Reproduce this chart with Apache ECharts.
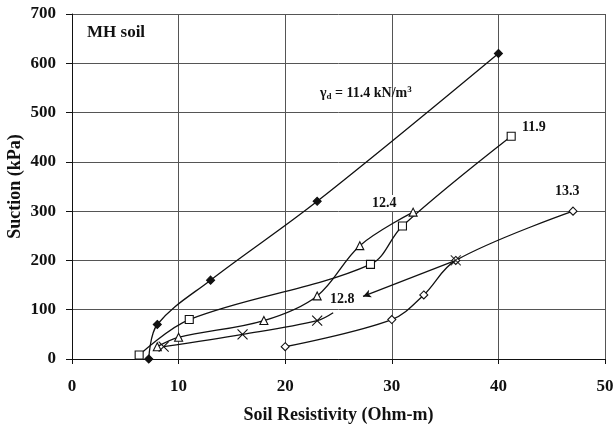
<!DOCTYPE html>
<html>
<head>
<meta charset="utf-8">
<script src="https://cdn.jsdelivr.net/npm/echarts@6/dist/echarts.min.js"></script>
<style>
  html, body { margin: 0; padding: 0; background: #fff; }
  #chart { width: 615px; height: 432px; }
</style>
</head>
<body>
<div id="chart"></div>
<script>
// Soil resistivity (Ohm-m) vs. suction (kPa) for MH soil at several dry unit weights
const xTicks = [0, 10, 20, 30, 40, 50];
const yTicks = [0, 100, 200, 300, 400, 500, 600, 700];

const gamma114 = [[7.2, 0], [8, 70], [13, 160], [23, 320], [40, 620]];
const gamma119 = [[6.3, 8], [11, 80], [28, 192], [31, 270], [41.2, 452]];
const gamma124 = [[8, 25], [10, 44], [18, 78], [23, 128], [27, 230], [32, 298]];
const gamma128 = [[8.6, 25], [16, 50], [23, 78]];
const gamma128Tail = [24.5, 94];
const gamma128Pointer = [[36, 200], [27.3, 127]];
const gamma133 = [[20, 25], [30, 80], [33, 130], [36, 200], [47, 300]];

const serif = '"Liberation Serif", "Times New Roman", serif';
const ink = '#111';

const crossPath = 'path://M0,0L10,10M10,0L0,10';

function lineSeries(name, data, symbol, size, filled) {
  return {
    name: name,
    type: 'line',
    data: data,
    smooth: 0.35,
    symbol: symbol,
    symbolSize: size,
    showAllSymbol: true,
    lineStyle: { color: ink, width: 1.3 },
    itemStyle: { color: filled ? ink : '#fff', borderColor: ink, borderWidth: 1.1 },
    z: 3
  };
}

const chart = echarts.init(document.getElementById('chart'), null, { renderer: 'canvas' });

const s128 = lineSeries('12.8', gamma128.concat([{ value: gamma128Tail, symbol: 'none' }]), crossPath, 10, false);
s128.markLine = {
  silent: true,
  symbol: ['none', 'arrow'],
  symbolSize: [6, 8],
  label: { show: false },
  lineStyle: { color: ink, width: 1.2, type: 'solid' },
  data: [[{ coord: gamma128Pointer[0] }, { coord: gamma128Pointer[1] }]]
};

chart.setOption({
  animation: false,
  backgroundColor: '#fff',
  grid: { left: 72, right: 10, top: 14, bottom: 73, containLabel: false, outerBoundsMode: 'none' },
  xAxis: {
    type: 'value',
    min: xTicks[0],
    max: xTicks[xTicks.length - 1],
    interval: 10,
    name: 'Soil Resistivity (Ohm-m)',
    nameLocation: 'middle',
    nameGap: 47,
    nameMoveOverlap: false,
    nameTextStyle: { fontFamily: serif, fontWeight: 'bold', fontSize: 18, color: ink },
    axisLine: { show: true, onZero: false, lineStyle: { color: ink, width: 1 } },
    axisTick: { show: true, inside: false, length: 5, lineStyle: { color: ink } },
    axisLabel: { fontFamily: serif, fontWeight: 'bold', fontSize: 17, color: ink, margin: 19 },
    splitLine: { show: true, lineStyle: { color: '#555', width: 1 } }
  },
  yAxis: {
    type: 'value',
    min: yTicks[0],
    max: yTicks[yTicks.length - 1],
    interval: 100,
    name: 'Suction (kPa)',
    nameLocation: 'middle',
    nameGap: 48,
    nameMoveOverlap: false,
    nameRotate: 90,
    nameTextStyle: { fontFamily: serif, fontWeight: 'bold', fontSize: 18, color: ink },
    axisLine: { show: true, lineStyle: { color: ink, width: 1 } },
    axisTick: { show: true, inside: false, length: 6, lineStyle: { color: ink } },
    axisLabel: { fontFamily: serif, fontWeight: 'bold', fontSize: 17, color: ink, margin: 16 },
    splitLine: { show: true, lineStyle: { color: '#555', width: 1 } }
  },
  series: [
    lineSeries('11.4', gamma114, 'diamond', 8, true),
    lineSeries('11.9', gamma119, 'rect', 8, false),
    lineSeries('12.4', gamma124, 'triangle', 8, false),
    s128,
    {
      name: '12.8 pointer',
      type: 'scatter',
      data: [gamma128Pointer[0]],
      symbol: crossPath,
      symbolSize: 10,
      itemStyle: { color: '#fff', borderColor: ink, borderWidth: 1.2 },
      z: 4
    },
    lineSeries('13.3', gamma133, 'diamond', 8, false)
  ],
  graphic: [
    {
      type: 'text', left: 87, top: 24, z: 10,
      style: { text: 'MH soil', font: 'bold 17px ' + serif, fill: ink }
    },
    {
      type: 'text', left: 320, top: 85, z: 10,
      style: {
        text: '{g|γ}{s|d}{g| = 11.4 kN/m}{p|3}',
        rich: {
          g: { font: 'bold 14px ' + serif, fill: ink, verticalAlign: 'middle' },
          s: { font: 'bold 9px ' + serif, fill: ink, padding: [6, 0, 0, 0] },
          p: { font: 'bold 9px ' + serif, fill: ink, padding: [0, 0, 8, 0] }
        }
      }
    },
    {
      type: 'text', left: 522, top: 120, z: 10,
      style: { text: '11.9', font: 'bold 14px ' + serif, fill: ink }
    },
    {
      type: 'text', left: 555, top: 184, z: 10,
      style: { text: '13.3', font: 'bold 14px ' + serif, fill: ink }
    },
    {
      type: 'text', left: 367, top: 195, z: 10,
      style: { text: '12.4', font: 'bold 14px ' + serif, fill: ink, backgroundColor: '#fff', padding: [1, 5, 1, 5] }
    },
    {
      type: 'text', left: 325, top: 291, z: 10,
      style: { text: '12.8', font: 'bold 14px ' + serif, fill: ink, backgroundColor: '#fff', padding: [1, 5, 1, 5] }
    }
  ]
});
</script>
</body>
</html>
